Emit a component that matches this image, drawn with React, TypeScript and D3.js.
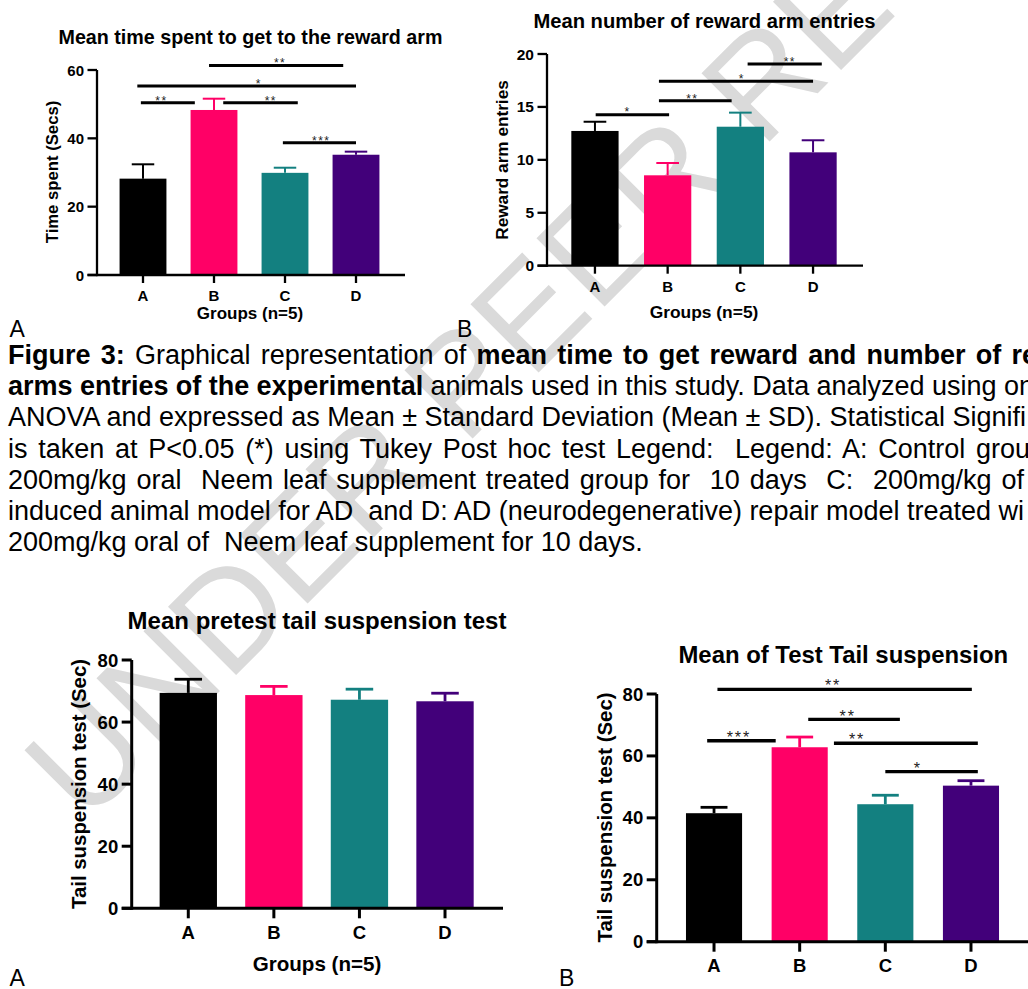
import { useLayoutEffect, useRef } from "react";
import * as d3 from "d3";

const FONT = "'Liberation Sans', Arial, Helvetica, sans-serif";

// ---- values ----
const groups = ["A", "B", "C", "D"];
const groupColors = ["#000000", "#ff0066", "#138080", "#42007a"];

// 3A: time to reach the reward arm (secs)
const timeMeans = [28.2, 48.3, 29.9, 35.2];
const timeSd = [4.2, 3.3, 1.5, 0.9];
const timeTicks = [0, 20, 40, 60];
// from / to / at are positions in group units (0 = A ... 3 = D)
const timeSig = [
  { from: 0.93, to: 2.82, at: 1.93, value: 61.3, stars: "**" },
  { from: -0.08, to: 3.0, at: 1.63, value: 55.3, stars: "*" },
  { from: -0.03, to: 0.73, at: 0.26, value: 50.4, stars: "**" },
  { from: 1.13, to: 2.18, at: 1.8, value: 50.4, stars: "**" },
  { from: 1.97, to: 3.0, at: 2.51, value: 38.7, stars: "***" },
];

// 3B: reward arm entries
const entryMeans = [12.73, 8.54, 13.13, 10.71];
const entrySd = [0.87, 1.16, 1.33, 1.14];
const entryTicks = [0, 5, 10, 15, 20];
const entrySig = [
  { from: 2.1, to: 3.12, at: 2.68, value: 19.06, stars: "**" },
  { from: 0.88, to: 3.0, at: 2.02, value: 17.42, stars: "*" },
  { from: 0.88, to: 1.88, at: 1.34, value: 15.59, stars: "**" },
  { from: 0.01, to: 1.02, at: 0.45, value: 14.27, stars: "*" },
];

// pretest tail suspension (sec)
const pretestMeans = [69.4, 68.7, 67.2, 66.7];
const pretestSd = [4.4, 2.8, 3.4, 2.6];
const tailTicks = [0, 20, 40, 60, 80];

// test tail suspension (sec)
const testMeans = [41.5, 62.8, 44.4, 50.4];
const testSd = [1.9, 3.3, 2.9, 1.6];
const testSig = [
  { from: 0.04, to: 3.01, at: 1.39, value: 81.5, stars: "**" },
  { from: 1.1, to: 2.17, at: 1.56, value: 71.8, stars: "**" },
  { from: -0.08, to: 0.72, at: 0.29, value: 64.9, stars: "***" },
  { from: 1.4, to: 3.08, at: 1.67, value: 64.1, stars: "**" },
  { from: 2.0, to: 3.08, at: 2.38, value: 54.9, stars: "*" },
];

const captionLines: [string, boolean][][] = [
  [["Figure 3:", true], [" Graphical representation of ", false], ["mean time to get reward and number of re", true]],
  [["arms entries of the experimental", true], [" animals used in this study. Data analyzed using on", false]],
  [["ANOVA and expressed as Mean ± Standard Deviation (Mean ± SD). Statistical Signifi", false]],
  [["is taken at P<0.05 (*) using Tukey Post hoc test Legend:  Legend: A: Control grou", false]],
  [["200mg/kg oral  Neem leaf supplement treated group for  10 days  C:  200mg/kg of", false]],
  [["induced animal model for AD  and D: AD (neurodegenerative) repair model treated wi", false]],
  [["200mg/kg oral of  Neem leaf supplement for 10 days.", false]],
];
// right edge each justified line runs to (last line is ragged)
const captionEnds = [1037, 1034, 1026, 1030, 1024, 1024, null];

const watermark = "UNDER PEER REVIEW";

// ---- layout ----
const small = { tick: 15, xTick: 15, stars: 12, axisW: 2.3, sigW: 3, errW: 2, yTickLen: 9.5, xTickLen: 8, gap: 3.5, starLift: 5 };
const large = { tick: 18.5, xTick: 18.5, stars: 16, axisW: 3, sigW: 3.3, errW: 2.8, yTickLen: 10, xTickLen: 10, gap: 3.5, starLift: 7 };

type Sig = { from: number; to: number; at: number; value: number; stars: string };

function BarPanel(props: {
  lay: any;
  st: any;
  title: string;
  yLabel: string;
  xLabel?: string;
  means: number[];
  sds: number[];
  ticks: number[];
  sig: Sig[];
}) {
  const { lay, st, title, yLabel, xLabel, means, sds, ticks, sig } = props;
  const yMax = ticks[ticks.length - 1];
  const y = d3.scaleLinear().domain([0, yMax]).range([lay.bottom, lay.top]);
  const x = d3
    .scaleBand<string>()
    .domain(groups)
    .range([lay.bandL, lay.bandR])
    .paddingInner(lay.pad)
    .paddingOuter(lay.pad / 2);
  const bw = x.bandwidth();
  const cx = (g: string) => (x(g) ?? 0) + bw / 2;
  const pos = d3
    .scaleLinear()
    .domain([0, groups.length - 1])
    .range([cx(groups[0]), cx(groups[groups.length - 1])]);
  const y0 = y(0);

  return (
    <g fontFamily={FONT} fontWeight="bold" fill="#000">
      <text x={lay.titleX} y={lay.titleY} fontSize={lay.titleSize} textAnchor="middle" dominantBaseline="central">
        {title}
      </text>

      {means.map((m, i) => (
        <rect key={groups[i]} x={x(groups[i])} y={y(m)} width={bw} height={y0 - y(m)} fill={groupColors[i]} />
      ))}
      {means.map((m, i) => {
        const c = cx(groups[i]);
        const top = y(m + sds[i]);
        return (
          <g key={"e" + groups[i]} stroke={groupColors[i]} strokeWidth={st.errW}>
            <line x1={c} x2={c} y1={y(m)} y2={top} />
            <line x1={c - bw * 0.24} x2={c + bw * 0.24} y1={top} y2={top} />
          </g>
        );
      })}

      {/* axes */}
      <g stroke="#000" strokeWidth={st.axisW}>
        <line x1={lay.axisX} x2={lay.axisX} y1={y(yMax)} y2={y0 + st.axisW / 2} />
        <line x1={lay.axisX - st.yTickLen} x2={lay.axisEnd} y1={y0} y2={y0} />
        {ticks.map((t) => (
          <line key={t} x1={lay.axisX - st.yTickLen} x2={lay.axisX} y1={y(t)} y2={y(t)} />
        ))}
        {groups.map((g) => (
          <line key={g} x1={cx(g)} x2={cx(g)} y1={y0} y2={y0 + st.xTickLen} />
        ))}
      </g>
      {ticks.map((t) => (
        <text
          key={t}
          x={lay.axisX - st.yTickLen - st.gap}
          y={y(t)}
          fontSize={lay.tickSize ?? st.tick}
          textAnchor="end"
          dominantBaseline="central"
        >
          {t}
        </text>
      ))}
      {groups.map((g) => (
        <text key={g} x={cx(g)} y={lay.xLabY} fontSize={st.xTick} textAnchor="middle" dominantBaseline="central">
          {g}
        </text>
      ))}

      <text
        transform={`translate(${lay.yLabX},${lay.yLabY}) rotate(-90)`}
        fontSize={lay.yLabSize}
        textAnchor="middle"
        dominantBaseline="central"
      >
        {yLabel}
      </text>
      {xLabel && (
        <text x={lay.gX} y={lay.gY} fontSize={lay.gSize} textAnchor="middle" dominantBaseline="central">
          {xLabel}
        </text>
      )}

      {/* significance brackets */}
      {sig.map((s, i) => (
        <g key={i}>
          <line x1={pos(s.from)} x2={pos(s.to)} y1={y(s.value)} y2={y(s.value)} stroke="#000" strokeWidth={st.sigW} />
          <text
            x={pos(s.at)}
            y={y(s.value) - st.starLift + st.stars * 0.57}
            fontSize={st.stars}
            fontWeight="normal"
            textAnchor="middle"
            letterSpacing={st.stars * 0.12}
            fill="#222"
          >
            {s.stars}
          </text>
        </g>
      ))}
    </g>
  );
}

const layTime = {
  axisX: 97, top: 70, bottom: 275, bandL: 107.5, bandR: 391.5, axisEnd: 405, pad: 0.34,
  titleX: 250.5, titleY: 37, titleSize: 19.7, xLabY: 295, yLabX: 52, yLabY: 172, yLabSize: 16.7,
  gX: 250, gY: 313, gSize: 17,
};
const layEntry = {
  axisX: 547, top: 54, bottom: 265.7, bandL: 558.6, bandR: 849.4, axisEnd: 863, pad: 0.35,
  titleX: 704.5, titleY: 21, titleSize: 20.2, xLabY: 286, yLabX: 502, yLabY: 160, yLabSize: 17.2,
  gX: 704, gY: 312, gSize: 17.4, tickSize: 15.5,
};
const layPre = {
  axisX: 131.7, top: 660, bottom: 908.3, bandL: 145.5, bandR: 487.8, axisEnd: 503, pad: 0.33,
  titleX: 317, titleY: 620.7, titleSize: 24, xLabY: 932, yLabX: 79, yLabY: 784, yLabSize: 20.4,
  gX: 317, gY: 963, gSize: 20.6,
};
const layTest = {
  axisX: 656.7, top: 694, bottom: 941.7, bandL: 671.2, bandR: 1013.8, axisEnd: 1028, pad: 0.345,
  titleX: 843.3, titleY: 654, titleSize: 23.9, xLabY: 965, yLabX: 605, yLabY: 817.5, yLabSize: 20.4,
};

const capX = 8;
const capY0 = 364;
const capStep = 31.2;
const capSize = 27;

export default function App() {
  const capRefs = useRef<(SVGTextElement | null)[]>([]);

  useLayoutEffect(() => {
    const justify = () => {
      captionLines.forEach((line, i) => {
        const el = capRefs.current[i];
        const end = captionEnds[i];
        if (!el || end == null) return;
        el.setAttribute("word-spacing", "0");
        const w = el.getComputedTextLength();
        const spaces = line.map((s) => s[0]).join("").split(" ").length - 1;
        if (spaces > 0) el.setAttribute("word-spacing", String((end - capX - w) / spaces));
      });
    };
    justify();
    if ((document as any).fonts) (document as any).fonts.ready.then(justify);
  }, []);

  const wmX = 85;
  const wmY = 826;

  return (
    <svg
      width={1028}
      height={989}
      viewBox="0 0 1028 989"
      style={{ position: "absolute", left: 0, top: 0, background: "#fff" }}
    >
      <rect width={1028} height={989} fill="#fff" />
      <text
        x={wmX}
        y={wmY}
        transform={`rotate(-45 ${wmX} ${wmY})`}
        fontFamily={FONT}
        fontSize={140}
        fill="#dadada"
      >
        {watermark}
      </text>

      <BarPanel lay={layTime} st={small} title="Mean time spent to get to the reward arm" yLabel="Time spent (Secs)"
        xLabel="Groups (n=5)" means={timeMeans} sds={timeSd} ticks={timeTicks} sig={timeSig} />
      <BarPanel lay={layEntry} st={small} title="Mean number of reward arm entries" yLabel="Reward arm entries"
        xLabel="Groups (n=5)" means={entryMeans} sds={entrySd} ticks={entryTicks} sig={entrySig} />
      <BarPanel lay={layPre} st={large} title="Mean pretest tail suspension test" yLabel="Tail suspension test (Sec)"
        xLabel="Groups (n=5)" means={pretestMeans} sds={pretestSd} ticks={tailTicks} sig={[]} />
      <BarPanel lay={layTest} st={large} title="Mean of Test Tail suspension" yLabel="Tail suspension test (Sec)"
        means={testMeans} sds={testSd} ticks={tailTicks} sig={testSig} />

      <g fontFamily={FONT} fontSize={23} fill="#000">
        <text x={9.5} y={337}>A</text>
        <text x={457} y={337}>B</text>
        <text x={9.5} y={986}>A</text>
        <text x={559} y={986}>B</text>
      </g>

      <g fontFamily={FONT} fontSize={capSize} fill="#000">
        {captionLines.map((line, i) => (
          <text
            key={i}
            ref={(el) => {
              capRefs.current[i] = el;
            }}
            x={capX}
            y={capY0 + i * capStep}
            xmlSpace="preserve"
            style={{ whiteSpace: "pre" }}
          >
            {line.map(([t, b], j) => (
              <tspan key={j} fontWeight={b ? "bold" : "normal"}>
                {t}
              </tspan>
            ))}
          </text>
        ))}
      </g>
    </svg>
  );
}
